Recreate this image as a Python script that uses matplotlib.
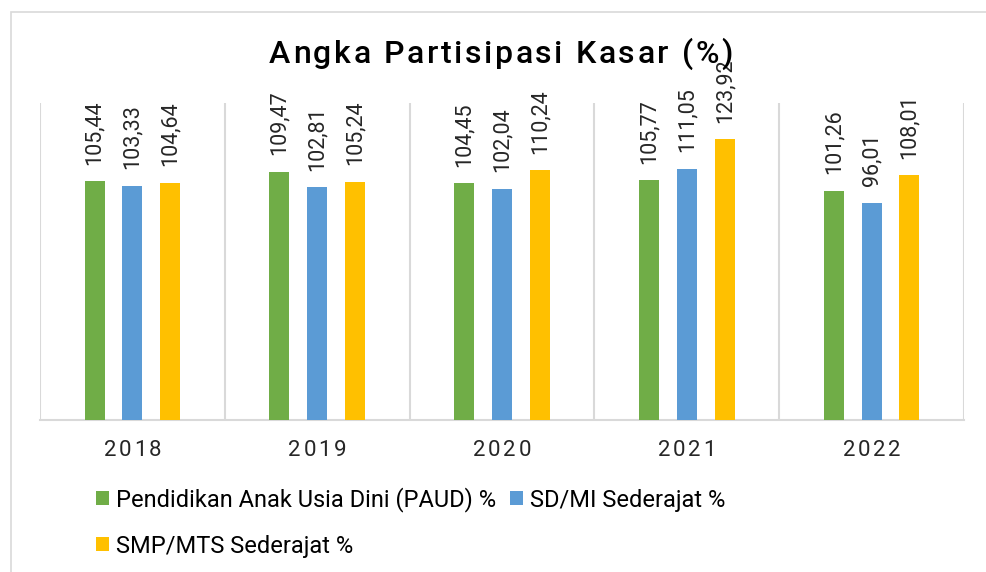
import matplotlib.pyplot as plt
from matplotlib.patches import Rectangle
import numpy as np

years = ['2018', '2019', '2020', '2021', '2022']
paud = [105.44, 109.47, 104.45, 105.77, 101.26]
sd_mi = [103.33, 102.81, 102.04, 111.05, 96.01]
smp_mts = [104.64, 105.24, 110.24, 123.92, 108.01]

series_names = ['Pendidikan Anak Usia Dini (PAUD) %', 'SD/MI Sederajat %', 'SMP/MTS Sederajat %']
colors = ['#70AD47', '#5B9BD5', '#FFC000']

plt.rcParams['font.family'] = ['Roboto', 'DejaVu Sans']


def spaced_text(fig, xc, yc, s, spacing, **kw):
    """teks dengan jarak antar huruf (posisi dalam piksel)"""
    renderer = fig.canvas.get_renderer()
    pos = [0.0]
    for i in range(1, len(s) + 1):
        t = fig.text(0, 0, s[:i], **kw)
        pos.append(t.get_window_extent(renderer).width)
        t.remove()
    total = pos[-1] + spacing * (len(s) - 1)
    W, H = fig.bbox.width, fig.bbox.height
    x0 = xc - total / 2
    for i, c in enumerate(s):
        if c == ' ':
            continue
        fig.text((x0 + pos[i] + i * spacing) / W, yc / H, c, ha='left', va='baseline', **kw)


fig = plt.figure(figsize=(9.86, 5.72), dpi=100)
ax = fig.add_axes([0.0406, 0.2657, 0.937, 0.5543])

# bingkai luar chart
fig.patches.append(Rectangle((11 / 986, -0.1), 1.2, 1.1 - 12 / 572, transform=fig.transFigure,
                             fill=False, edgecolor='#D9D9D9', linewidth=1.2))

x = np.arange(len(years))
width = 0.108
offsets = [-0.205, 0, 0.205]
bars = []
for vals, off, col, name in zip([paud, sd_mi, smp_mts], offsets, colors, series_names):
    b = ax.bar(x + off, vals, width, color=col, label=name, zorder=3)
    bars.append(b)
    for xi, v in zip(x + off, vals):
        ax.annotate(f'{v:.2f}'.replace('.', ','), (xi, v), xytext=(0, 12), textcoords='offset points',
                    rotation=90, ha='center', va='bottom', fontsize=15.5, color='#262626')

ax.set_xlim(-0.5, 4.5)
ax.set_ylim(0, 140)
ax.set_xticks(x)
ax.set_xticks(np.arange(-0.5, 5, 1), minor=True)
ax.tick_params(axis='x', which='both', length=0, labelbottom=False)
ax.set_yticks([])
ax.grid(axis='x', which='minor', color='#D9D9D9', linewidth=1.5, zorder=0)
for s in ['top', 'right', 'left']:
    ax.spines[s].set_visible(False)
ax.spines['bottom'].set_color('#D9D9D9')
ax.spines['bottom'].set_linewidth(1.5)

# label tahun dengan jarak huruf
for xi, yr in zip(x, years):
    xc = ax.transData.transform((xi, 0))[0]
    spaced_text(fig, xc, 572 - 456, yr, 2.6, fontsize=16, color='#262626')

spaced_text(fig, 501, 572 - 63, 'Angka Partisipasi Kasar (%)', 2.6, fontsize=23, color='black',
            fontweight='medium')

handles = [bars[0], bars[2], bars[1]]
labels = [series_names[0], series_names[2], series_names[1]]
fig.legend(handles, labels, ncol=2, loc='upper left', bbox_to_anchor=(0.097, 0.148), frameon=False,
           fontsize=17, handlelength=0.55, handleheight=0.55, handletextpad=0.3, columnspacing=0.6,
           labelspacing=0.95, borderaxespad=0, borderpad=0)

plt.savefig('out.png', dpi=100)
